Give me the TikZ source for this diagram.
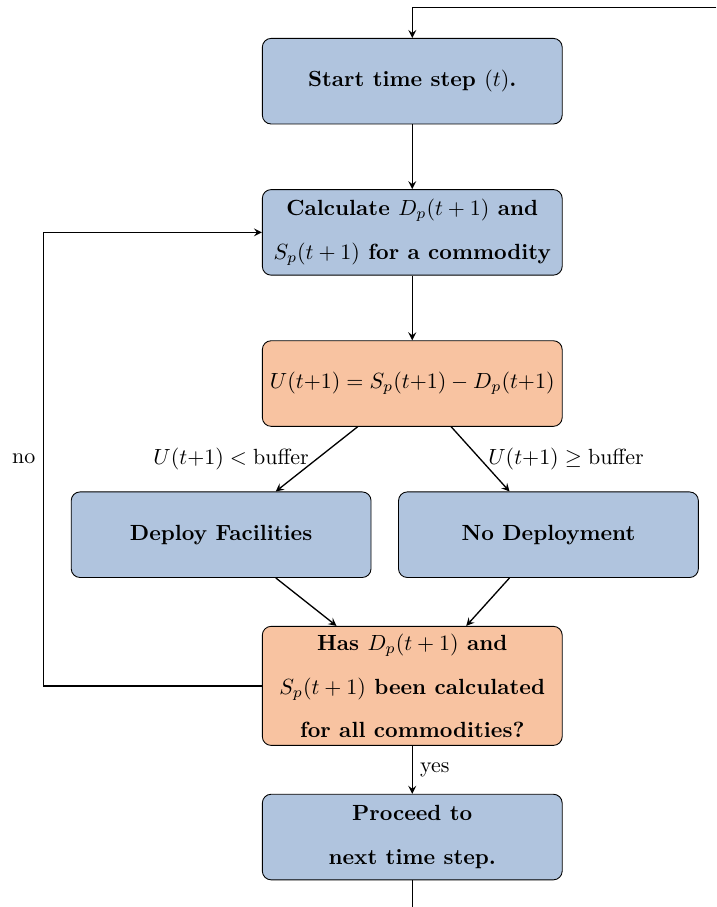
\documentclass[tikz,border=0pt]{standalone}
\usepackage{amsmath}
\usetikzlibrary{shapes.geometric, arrows.meta}
\definecolor{stepblue}{HTML}{B0C4DE}
\definecolor{checkorange}{HTML}{F8C3A1}
\tikzstyle{process} = [rectangle, rounded corners, minimum width=4.8cm, minimum height=1.37cm, text centered, align=center, font=\bfseries, draw=black, fill=stepblue]
\tikzstyle{check} = [rectangle, rounded corners, minimum width=4.8cm, minimum height=1.37cm, text centered, align=center, font=\bfseries, draw=black, fill=checkorange]
\tikzstyle{arrow} = [line width=0.6pt,->,>=stealth]

\begin{document}
\begin{tikzpicture}[node distance=2.42cm]
			\useasboundingbox (-6.6,1.3) rectangle (4.87,-13.22);
			\node (start) [process] {Start time step $(t)$.};
			\node (calc) [process, below of=start] {Calculate $D_p(t+1)$ and\\[8pt] $S_p(t+1)$ for a commodity};
			\node (gap) [check, below of=calc, font=\normalfont] {$U(t{+}1) = S_p(t{+}1) - D_p(t{+}1)$};
			\node (deploy) [process, below of=gap, xshift=-3.06cm] {Deploy Facilities};
			\node (nodeploy) [process, below of=gap, xshift=2.18cm] {No Deployment};
			\node (done) [check, below of=deploy, xshift=3.06cm] {Has $D_p(t+1)$ and\\[8pt] $S_p(t+1)$ been calculated\\[8pt] for all commodities?};
			\node (next) [process, below of=done] {Proceed to\\[8pt] next time step.};
			\coordinate (loopin) at (4.87,1.18);
			\coordinate (loopout) at (0,-13.22);
			
			\draw [arrow] (loopin) -| (start);
			\draw [arrow] (start) -- (calc);
			\draw [arrow] (calc) -- (gap);
			\draw [arrow] (gap) -- node[left] {$U(t{+}1) < \text{buffer}$} (deploy);
			\draw [arrow] (gap) -- node[right] {$U(t{+}1) \geq \text{buffer}$} (nodeploy);
			\draw [arrow] (deploy) -- (done);
			\draw [arrow] (nodeploy) -- (done);
			\draw [arrow] (done.west) -- ++(-3.5,0) |- node[left, pos=0.25] {no} (calc.west);
			\draw [arrow] (done) -- node[right] {yes} (next);
			\draw [line width=0.6pt] (next) -- (loopout);
		\end{tikzpicture}
\end{document}
